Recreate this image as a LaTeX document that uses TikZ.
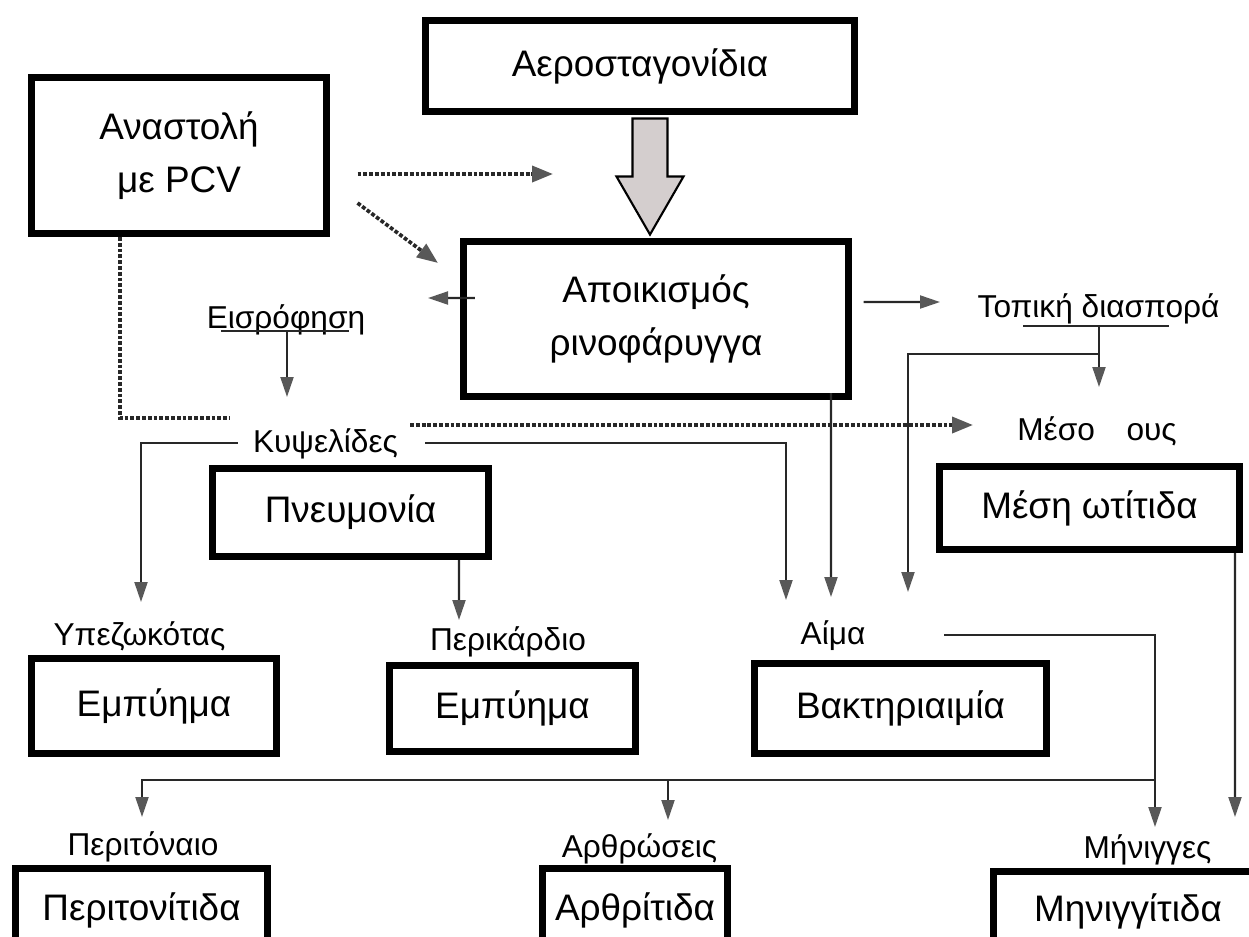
\documentclass[tikz,border=0pt]{standalone}
\usepackage{fontspec}
\setmainfont{Liberation Sans}
\usetikzlibrary{arrows.meta}

\begin{document}
\begin{tikzpicture}[scale=1.0000]
	\tikzstyle{every node}=[scale=1.0000]
	
	\definecolor{a282828}{RGB}{40,40,40}
	\definecolor{a585858}{RGB}{88,88,88}
	\definecolor{ad2cccc}{RGB}{212,206,206}
	\tikzstyle{boxnode}=[draw=black, line width=4pt, fill=white, align=center, font=\fontsize{21}{30}\selectfont]
	\tikzstyle{labelnode}=[anchor=base, inner sep=1pt, font=\fontsize{18}{21}\selectfont]
	\tikzstyle{thinline}=[draw=a282828, line width=1.2pt]
	\tikzstyle{arr}=[thinline, -{Triangle[length=0.40cm,width=0.26cm,color=a585858]}]
	\tikzstyle{dotline}=[draw=a282828, line width=2.1pt, dash pattern=on 2.2pt off 1.1pt]
	\tikzstyle{dotarr}=[dotline, -{Triangle[length=0.42cm,width=0.32cm,color=a585858]}]
	%%frame of the page
	\clip (0.0000,0.0000) rectangle (24.9800,-18.7200);
	
	%%boxes
	\node [boxnode, minimum width=8.58cm, minimum height=1.82cm] (aero) at (12.8000,-1.3200) {Αεροσταγονίδια};
	\node [boxnode, minimum width=5.90cm, minimum height=3.12cm] (anast) at (3.5800,-3.1100) {Αναστολή\\με PCV};
	\node [boxnode, minimum width=7.70cm, minimum height=3.10cm] (apoik) at (13.1200,-6.3800) {Αποικισμός\\ρινοφάρυγγα};
	\node [boxnode, minimum width=5.52cm, minimum height=1.76cm] (pneum) at (7.0100,-10.2500) {Πνευμονία};
	\node [boxnode, minimum width=6.00cm, minimum height=1.66cm] (mesi) at (21.7900,-10.1600) {Μέση ωτίτιδα};
	\node [boxnode, minimum width=4.90cm, minimum height=1.90cm] (empy1) at (3.0800,-14.1200) {Εμπύημα};
	\node [boxnode, minimum width=4.92cm, minimum height=1.72cm] (empy2) at (10.2500,-14.1700) {Εμπύημα};
	\node [boxnode, minimum width=5.84cm, minimum height=1.80cm] (bakt) at (18.0100,-14.1700) {Βακτηριαιμία};
	\node [boxnode, minimum width=5.04cm, minimum height=1.66cm] (perit) at (2.8300,-18.2000) {Περιτονίτιδα};
	\node [boxnode, minimum width=3.70cm, minimum height=1.66cm] (arthr) at (12.7000,-18.2000) {Αρθρίτιδα};
	\node [boxnode, minimum width=5.38cm, minimum height=1.60cm] (mening) at (22.5600,-18.2300) {Μηνιγγίτιδα};
	
	%%labels
	\node [labelnode] (eisr) at (5.7200,-6.5600) {Εισρόφηση};
	\node [labelnode] (kyps) at (6.5100,-9.0400) {Κυψελίδες};
	\node [labelnode] (topiki) at (21.9700,-6.3400) {Τοπική διασπορά};
	\node [labelnode] (meso) at (21.9400,-8.8000) {Μέσο\hspace{1.0em}ους};
	\node [labelnode] (ypez) at (2.7900,-12.9000) {Υπεζωκότας};
	\node [labelnode] (perik) at (10.1600,-13.0000) {Περικάρδιο};
	\node [labelnode] (aima) at (16.6600,-12.8800) {Αίμα};
	\node [labelnode] (peritn) at (2.8600,-17.1000) {Περιτόναιο};
	\node [labelnode] (arthrw) at (12.7900,-17.1400) {Αρθρώσεις};
	\node [labelnode] (menig) at (22.9500,-17.1600) {Μήνιγγες};
	
	%%free ends and junctions
	\coordinate (aeroin) at (11.0600,-3.4800);
	\coordinate (apoikin) at (8.7600,-5.2600);
	\coordinate (kypsin) at (4.5800,-8.3600);
	\coordinate (mesoin) at (19.4600,-8.5000);
	\coordinate (kypsout) at ([xshift=0.20cm]kyps.east);
	\coordinate (eisrin) at (8.5600,-5.9600);
	\coordinate (topin) at (18.8000,-6.0400);
	\coordinate (eisrbar) at ([yshift=-0.06cm]eisr.base);
	\coordinate (topbar) at ([yshift=-0.18cm]topiki.base);
	\coordinate (kypsdown) at (5.7400,-7.9400);
	\coordinate (mesodown) at (21.9800,-7.7400);
	\coordinate (topbranch) at (21.9800,-7.0800);
	\coordinate (baktright) at (18.1600,-11.8400);
	\coordinate (aimatop) at (16.6200,-11.9400);
	\coordinate (aimaleft) at (15.7200,-12.0000);
	\coordinate (ypeztop) at (2.8200,-12.0400);
	\coordinate (periktop) at (9.1800,-12.4000);
	\coordinate (menigtop) at (23.1000,-16.5400);
	\coordinate (menigright) at (24.7000,-16.3400);
	\coordinate (perittop) at (2.8400,-16.3400);
	\coordinate (arthrtop) at (13.3600,-16.4000);
	\coordinate (jn) at (23.1000,-15.6000);
	
	%%big arrow
	\draw [draw=black, line width=1.2pt, fill=ad2cccc] ([xshift=0.20cm,yshift=-0.07cm]aero.south) ++(-0.35,0) -- ++(0,-1.16) -- ++(-0.32,0) -- ++(0.67,-1.16) -- ++(0.67,1.16) -- ++(-0.32,0) -- ++(0,1.16) -- cycle;
	
	%%dotted arrows
	\draw [dotarr] ([shift={(0.55,-0.37)}]anast.east) -- (aeroin);
	\draw [dotarr] ([shift={(0.55,-0.95)}]anast.east) -- (apoikin);
	\draw [dotline] ([xshift=-1.18cm]anast.south) |- (kypsin);
	\draw [dotarr] (mesoin -| kypsout) -- (mesoin);
	
	%%solid arrows
	\draw [arr] ([shift={(0.30,0.42)}]apoik.west) -- (eisrin);
	\draw [arr] ([shift={(0.23,0.34)}]apoik.east) -- (topin);
	\draw [thinline] ([xshift=-1.30cm]eisrbar) -- ([xshift=1.26cm]eisrbar);
	\draw [arr] (kypsdown |- eisrbar) -- (kypsdown);
	\draw [thinline] ([xshift=-1.51cm]topbar) -- ([xshift=1.41cm]topbar);
	\draw [arr] (mesodown |- topbar) -- (mesodown);
	\draw [arr] (topbranch) -| (baktright);
	\draw [arr] ([xshift=-0.26cm]kyps.west) -| (ypeztop);
	\draw [arr] ([xshift=0.50cm]kyps.east) -| (aimaleft);
	\draw [arr] ([xshift=3.50cm,yshift=0.14cm]apoik.south) -- (aimatop);
	\draw [arr] ([xshift=2.17cm]pneum.south) -- (periktop);
	\draw [arr] ([xshift=1.54cm]aima.east) -| (menigtop);
	\draw [arr] (jn) -| (perittop);
	\draw [arr] (jn -| arthrtop) -- (arthrtop);
	\draw [arr] ([xshift=2.91cm]mesi.south) -- (menigright);

\end{tikzpicture}
\end{document}
